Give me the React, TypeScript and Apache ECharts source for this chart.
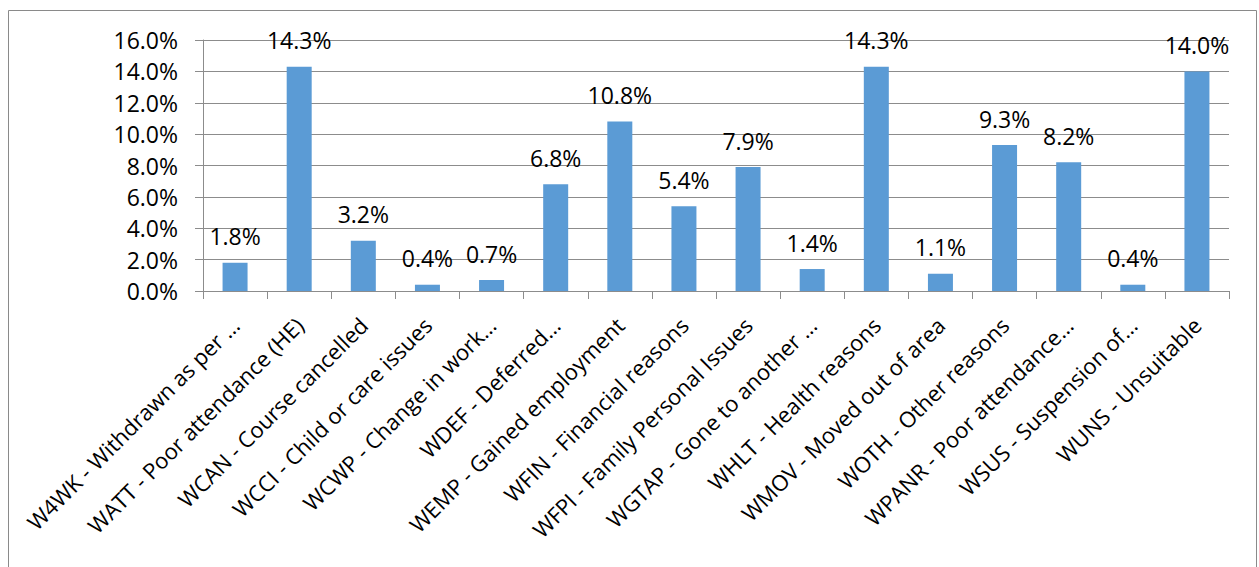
import React, { useEffect, useRef } from "react";
import * as echarts from "echarts";

const categories: string[] = [
  "W4WK - Withdrawn as per …",
  "WATT - Poor attendance (HE)",
  "WCAN - Course cancelled",
  "WCCI - Child or care issues",
  "WCWP - Change in work…",
  "WDEF - Deferred…",
  "WEMP - Gained employment",
  "WFIN - Financial reasons",
  "WFPI - Family Personal Issues",
  "WGTAP - Gone to another …",
  "WHLT - Health reasons",
  "WMOV - Moved out of area",
  "WOTH - Other reasons",
  "WPANR - Poor attendance…",
  "WSUS - Suspension of…",
  "WUNS - Unsuitable",
];

const values: number[] = [1.8, 14.3, 3.2, 0.4, 0.7, 6.8, 10.8, 5.4, 7.9, 1.4, 14.3, 1.1, 9.3, 8.2, 0.4, 14.0];

const yMin = 0;
const yMax = 16;
const yStep = 2;

const FONT = "Open Sans";

export default function App() {
  const ref = useRef<HTMLDivElement>(null);
  useEffect(() => {
    if (!ref.current) return;
    const chart = echarts.init(ref.current, null, { renderer: "svg" });
    chart.setOption({
      animation: false,
      backgroundColor: "#ffffff",
      textStyle: { fontFamily: FONT },
      graphic: [
        {
          type: "rect",
          shape: { x: 8.5, y: 10.5, width: 1248, height: 600 },
          style: { fill: "none", stroke: "#8a8a8a", lineWidth: 1 },
          silent: true,
          z: -1,
        },
      ],
      grid: { left: 203, top: 40, right: 30, bottom: 276, containLabel: false },
      xAxis: {
        type: "category",
        data: categories,
        boundaryGap: true,
        axisLine: { show: true, lineStyle: { color: "#8c8c8c", width: 1 } },
        axisTick: { show: true, length: 8, alignWithLabel: false, lineStyle: { color: "#8c8c8c" } },
        axisLabel: {
          interval: 0,
          rotate: 45,
          margin: 30,
          fontFamily: FONT,
          fontSize: 22,
          color: "#000000",
        },
        splitLine: { show: false },
      },
      yAxis: {
        type: "value",
        min: yMin,
        max: yMax,
        interval: yStep,
        axisLine: { show: true, lineStyle: { color: "#8c8c8c", width: 1 } },
        axisTick: { show: true, length: 8, lineStyle: { color: "#8c8c8c" } },
        axisLabel: {
          margin: 25,
          fontFamily: FONT,
          fontSize: 23,
          color: "#000000",
          formatter: (v: number) => v.toFixed(1) + "%",
        },
        splitLine: { show: true, lineStyle: { color: "#8c8c8c", width: 1 } },
      },
      series: [
        {
          type: "bar",
          data: values,
          barWidth: 25,
          itemStyle: { color: "#5B9BD5" },
          label: {
            show: true,
            position: "top",
            distance: 15,
            fontFamily: FONT,
            fontSize: 23,
            color: "#000000",
            formatter: (p: any) => Number(p.value).toFixed(1) + "%",
          },
        },
      ],
    });
    return () => chart.dispose();
  }, []);
  return (
    <div
      ref={ref}
      style={{ position: "absolute", left: 0, top: 0, width: 1259, height: 567 }}
    />
  );
}
